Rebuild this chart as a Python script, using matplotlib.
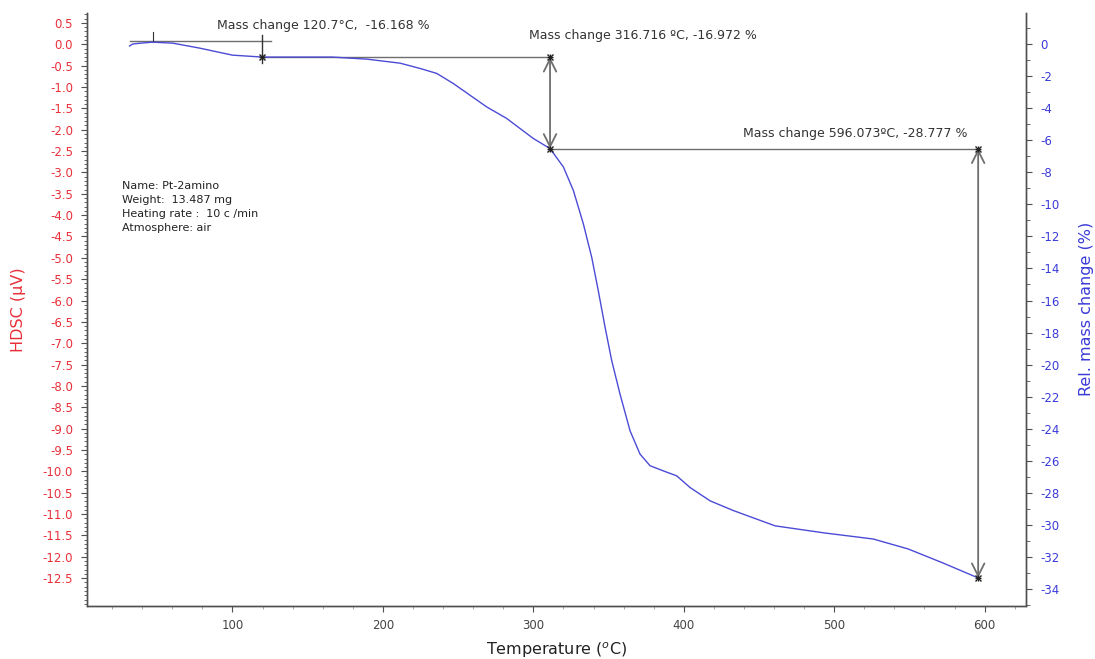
import matplotlib
matplotlib.use("Agg")
import matplotlib.pyplot as plt
from matplotlib.ticker import MultipleLocator, FormatStrFormatter

plt.rcParams['font.family'] = ['DejaVu Sans']
plt.rcParams['axes.unicode_minus'] = False

# ---- data: TGA curve (temperature in °C, relative mass change in %) ----
temperature = [31.6, 33.5, 38.0, 46.9, 60.2, 78.1, 100.0, 119.9, 144.5, 166.4,
               189.4, 211.4, 224.7, 235.8, 246.8, 257.9, 269.0, 282.3, 291.2,
               300.0, 311.1, 320.0, 326.6, 333.2, 338.8, 343.2, 347.7, 352.1,
               357.6, 364.3, 370.9, 377.6, 386.4, 395.3, 404.2, 417.5,
               432.8, 460.7, 493.3, 525.9, 549.1, 572.4, 595.7]
mass_change = [-0.12, 0.0, 0.05, 0.12, 0.06, -0.25, -0.69, -0.81, -0.81, -0.81,
               -0.94, -1.19, -1.52, -1.83, -2.46, -3.19, -3.92, -4.64, -5.27,
               -5.89, -6.52, -7.67, -9.13, -11.2, -13.3, -15.4, -17.67, -19.75,
               -21.83, -24.13, -25.58, -26.31, -26.63, -26.94, -27.67, -28.5,
               -29.1, -30.06, -30.5, -30.88, -31.5, -32.38, -33.31]

# annotation step points (temperature, mass) and labels
step_temps = [119.9, 311.1, 595.7]
step_mass = [-0.81, -6.52, -33.31]
step_labels = ["Mass change 120.7\u00b0C,  -16.168 %",
               "Mass change 316.716 \u00baC, -16.972 %",
               "Mass change 596.073\u00baC, -28.777 %"]

info_lines = ["Name: Pt-2amino", "Weight:  13.487 mg",
              "Heating rate :  10 c /min", "Atmosphere: air"]

hdsc_ticks = [0.5 - 0.5 * i for i in range(27)]
mass_ticks = [0 - 2 * i for i in range(18)]
temp_ticks = [100, 200, 300, 400, 500, 600]

red = '#e8303a'
blue = '#3a3ad8'
curve_blue = '#4b4bd6'
gray = '#6e6e6e'
axcol = '#505050'

fig = plt.figure(figsize=(10.95, 6.59), dpi=100)
ax = fig.add_axes([87 / 1095, 1 - 605.5 / 659, (1026 - 87) / 1095, (605.5 - 13) / 659])
ax2 = ax.twinx()

ax.set_xlim(3.3, 627.5)
ax.set_ylim(-13.14, 0.733)
ax2.set_ylim(-35.03, 1.94)

# curve
ax2.plot(temperature, mass_change, color=curve_blue, lw=1.0, zorder=3,
         solid_joinstyle='round')

# annotations
lc = gray
# first step
ax2.plot([31.6, 125.9], [0.19, 0.19], color=lc, lw=1.0)
ax2.plot([46.9, 46.9], [0.12, 0.75], color='#333333', lw=0.8)
ax2.plot([step_temps[0], step_temps[0]], [0.56, -1.19], color='#333333', lw=1.0)
# horizontal reference lines
ax2.plot([step_temps[0], step_temps[1]], [step_mass[0], step_mass[0]], color=lc, lw=1.0)
ax2.plot([step_temps[1], step_temps[2]], [step_mass[1], step_mass[1]], color=lc, lw=1.0)
# double arrows
for xa, y0, y1 in [(step_temps[1], step_mass[0], step_mass[1]),
                   (step_temps[2], step_mass[1], step_mass[2])]:
    ax2.annotate('', xy=(xa, y0), xytext=(xa, y1),
                 arrowprops=dict(arrowstyle='<->,head_length=0.9,head_width=0.45',
                                 color=lc, lw=1.3, shrinkA=0, shrinkB=0))
# markers at step points
mk_x = [step_temps[0], step_temps[1], step_temps[1], step_temps[2], step_temps[2]]
mk_y = [step_mass[0], step_mass[0], step_mass[1], step_mass[1], step_mass[2]]
ax2.plot(mk_x, mk_y, ls='none', marker='x', ms=4, mew=1.0, color='#222222', zorder=5)
ax2.plot(mk_x, mk_y, ls='none', marker='+', ms=5, mew=1.0, color='#222222', zorder=5)

# labels
ax2.text(160.5, 1.19, step_labels[0], ha='center', va='center', fontsize=9, color='#333333')
ax2.text(372.6, 0.56, step_labels[1], ha='center', va='center', fontsize=9, color='#333333')
ax2.text(514.2, -5.56, step_labels[2], ha='center', va='center', fontsize=9, color='#333333')

# info box
for i, line in enumerate(info_lines):
    ypx = 186 + 14 * i
    ax.text((122 - 87) / 939, 1 - (ypx - 13) / 592.5, line, transform=ax.transAxes,
            ha='left', va='center', fontsize=8, color='#222222')

# axes styling
for a in (ax, ax2):
    a.spines['top'].set_visible(False)
    for s in ('left', 'bottom', 'right'):
        a.spines[s].set_color(axcol)
        a.spines[s].set_linewidth(1.0)

ax.set_yticks(hdsc_ticks)
ax.yaxis.set_major_formatter(FormatStrFormatter('%.1f'))
ax.yaxis.set_minor_locator(MultipleLocator(0.1))
ax.set_xticks(temp_ticks)
ax.xaxis.set_minor_locator(MultipleLocator(20))
ax.tick_params(axis='y', which='major', length=4, width=0.8, colors=axcol,
               labelcolor=red, labelsize=8.5, pad=6)
ax.tick_params(axis='y', which='minor', length=2, width=0.6, colors=axcol)
ax.tick_params(axis='x', which='major', length=4, width=0.8, colors=axcol,
               labelcolor='#444444', labelsize=8.5, pad=6)
ax.tick_params(axis='x', which='minor', length=2.5, width=0.6, colors='#999999')

ax2.set_yticks(mass_ticks)
ax2.yaxis.set_minor_locator(MultipleLocator(1))
ax2.tick_params(axis='y', which='major', length=4, width=0.8, colors=axcol,
                labelcolor=blue, labelsize=8.5, pad=6)
ax2.tick_params(axis='y', which='minor', length=3, width=0.6, colors=axcol)

ax.set_xlabel('Temperature ($^{o}$C)', fontsize=11.5, color='#222222', labelpad=6)
ax.set_ylabel('HDSC (\u00b5V)', fontsize=11.5, color=red, labelpad=12)
ax2.set_ylabel('Rel. mass change (%)', fontsize=11.5, color=blue, labelpad=14)

fig.savefig('out.png', dpi=100)
